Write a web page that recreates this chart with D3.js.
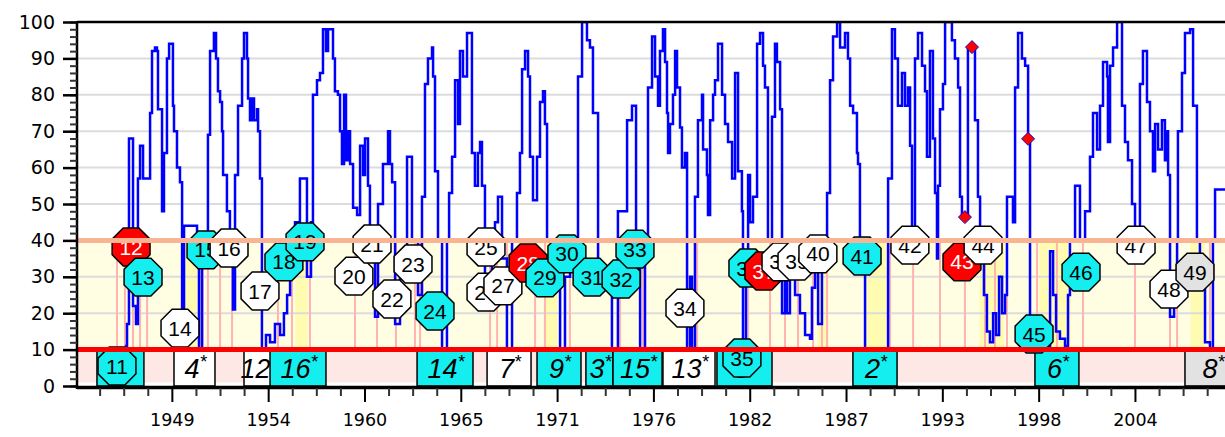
<!DOCTYPE html>
<html>
<head>
<meta charset="utf-8">
<script src="https://cdn.jsdelivr.net/npm/d3@7"></script>
<style>
  body { margin: 0; background: #fff; }
  .axis text { font-family: "DejaVu Sans", sans-serif; fill: #000; }
  .axis path { display: none; }
</style>
</head>
<body>
<svg id="chart" width="1225" height="437"></svg>
<script>
// ---- data ----
// x axis is a day-count axis: major ticks every 2000 days, minor every 500
const majorDays = [18000, 20000, 22000, 24000, 26000, 28000, 30000, 32000, 34000, 36000, 38000];
const tickLabels = ["1949", "1954", "1960", "1965", "1971", "1976", "1982", "1987", "1993", "1998", "2004"];
const yTicks = [0, 10, 20, 30, 40, 50, 60, 70, 80, 90, 100];

// blue step line (decimal year, value)
const lineYear = [1946.61, 1946.73, 1946.84, 1947.07, 1947.24, 1947.35, 1947.47, 1947.64, 1948.04, 1948.15,
  1948.32, 1948.43, 1948.49, 1948.72, 1948.83, 1949.00, 1949.12, 1949.34, 1949.40, 1949.57,
  1949.74, 1949.86, 1949.97, 1950.71, 1950.82, 1950.99, 1951.33, 1951.45, 1951.67, 1951.79,
  1951.90, 1952.02, 1952.13, 1952.19, 1952.41, 1952.58, 1952.75, 1952.87, 1953.04, 1953.27,
  1953.38, 1953.55, 1953.61, 1953.72, 1953.84, 1953.95, 1954.12, 1954.18, 1954.29, 1954.40,
  1954.63, 1954.86, 1955.14, 1955.43, 1955.65, 1955.83, 1956.00, 1956.28, 1956.56, 1956.96,
  1957.19, 1957.30, 1957.53, 1957.70, 1957.87, 1958.04, 1958.16, 1958.44, 1958.55, 1958.72,
  1958.84, 1958.95, 1959.07, 1959.18, 1959.29, 1959.41, 1959.58, 1959.81, 1959.98, 1960.15,
  1960.26, 1960.43, 1960.54, 1960.83, 1961.00, 1961.28, 1961.57, 1961.68, 1961.80, 1961.97,
  1962.25, 1962.65, 1962.93, 1963.27, 1963.50, 1963.67, 1963.84, 1964.07, 1964.13, 1964.24,
  1964.41, 1964.64, 1964.92, 1965.04, 1965.21, 1965.38, 1965.55, 1965.66, 1965.83, 1966.06,
  1966.34, 1966.51, 1966.68, 1966.80, 1966.91, 1967.08, 1967.48, 1967.65, 1967.82, 1968.05,
  1968.33, 1968.62, 1968.90, 1969.07, 1969.19, 1969.36, 1969.53, 1969.64, 1969.81, 1970.04,
  1970.21, 1970.38, 1970.49, 1970.61, 1971.18, 1971.35, 1971.63, 1971.92, 1972.37, 1972.60,
  1972.88, 1973.05, 1973.22, 1973.51, 1974.30, 1974.64, 1975.16, 1975.44, 1975.67, 1975.90,
  1976.18, 1976.35, 1976.58, 1976.75, 1976.92, 1977.03, 1977.20, 1977.32, 1977.43, 1977.49,
  1977.60, 1977.77, 1977.89, 1978.00, 1978.17, 1978.28, 1978.45, 1978.57, 1978.74, 1978.85,
  1979.02, 1979.19, 1979.42, 1979.48, 1979.70, 1979.76, 1979.88, 1980.05, 1980.16, 1980.33,
  1980.56, 1980.73, 1980.90, 1981.13, 1981.30, 1981.47, 1981.69, 1981.75, 1981.92, 1982.04,
  1982.15, 1982.32, 1982.55, 1982.72, 1982.89, 1983.00, 1983.17, 1983.40, 1983.57, 1983.68,
  1983.86, 1983.97, 1984.14, 1984.25, 1984.42, 1984.71, 1984.99, 1985.28, 1985.56, 1985.67,
  1985.85, 1986.02, 1986.24, 1986.41, 1986.53, 1986.70, 1986.87, 1987.10, 1987.27, 1987.55,
  1987.72, 1987.84, 1988.01, 1988.23, 1988.29, 1988.40, 1988.69, 1990.00, 1990.22, 1990.39,
  1990.56, 1990.79, 1990.96, 1991.13, 1991.25, 1991.36, 1991.53, 1991.70, 1991.93, 1992.10,
  1992.21, 1992.38, 1992.55, 1992.67, 1992.78, 1992.84, 1992.95, 1993.12, 1993.24, 1993.63,
  1993.80, 1993.98, 1994.09, 1994.20, 1994.54, 1994.94, 1995.11, 1995.23, 1995.45, 1995.62,
  1995.79, 1995.97, 1996.14, 1996.31, 1996.48, 1996.65, 1996.76, 1997.10, 1997.22, 1997.39,
  1997.61, 1997.79, 1997.96, 1998.07, 1999.21, 1999.38, 1999.55, 1999.77, 2000.06, 2000.23,
  2000.34, 2000.63, 2000.91, 2001.20, 2001.48, 2001.65, 2001.88, 2002.05, 2002.22, 2002.45,
  2002.50, 2002.62, 2002.79, 2003.02, 2003.30, 2003.47, 2003.64, 2003.87, 2004.04, 2004.32,
  2004.49, 2004.72, 2004.89, 2005.06, 2005.18, 2005.35, 2005.57, 2005.74, 2005.86, 2005.92,
  2006.03, 2006.26, 2006.43, 2006.48, 2006.71, 2006.88, 2007.17, 2007.34, 2007.56, 2007.73,
  2008.02, 2008.30, 2008.47, 2008.59, 2009.50];
const lineValue = [11, 17, 68, 22, 17, 57, 66, 57, 75, 92,
  93, 92, 76, 48, 64, 90, 94, 77, 70, 60,
  56, 12, 44, 34, 10, 33, 69, 92, 97, 90,
  81, 78, 70, 58, 48, 35, 21, 58, 77, 90,
  97, 90, 79, 73, 79, 73, 76, 70, 57, 10,
  14, 12, 17, 14, 20, 25, 35, 45, 57, 30,
  45, 80, 84, 86, 98, 92, 98, 90, 81, 80,
  70, 61, 80, 62, 70, 61, 49, 47, 66, 58,
  68, 55, 35, 19, 50, 61, 70, 61, 56, 17,
  30, 63, 40, 25, 52, 83, 90, 93, 85, 59,
  40, 10, 40, 53, 63, 84, 72, 92, 85, 97,
  64, 55, 64, 67, 55, 30, 35, 45, 52, 35,
  10, 40, 53, 64, 87, 92, 85, 63, 51, 63,
  78, 81, 72, 40, 30, 10, 30, 40, 85, 100,
  95, 93, 75, 30, 10, 48, 73, 77, 35, 10,
  40, 82, 96, 85, 77, 92, 98, 89, 75, 64,
  72, 80, 92, 82, 71, 60, 64, 10, 30, 10,
  52, 73, 80, 65, 58, 47, 73, 80, 84, 94,
  80, 72, 67, 57, 86, 59, 48, 12, 35, 58,
  45, 52, 94, 97, 88, 82, 40, 74, 94, 89,
  76, 20, 35, 20, 30, 25, 20, 14, 13, 27,
  35, 17, 35, 40, 53, 84, 96, 100, 93, 97,
  90, 77, 75, 64, 61, 32, 10, 57, 98, 90,
  77, 86, 77, 82, 66, 35, 90, 97, 88, 81,
  63, 92, 68, 53, 35, 55, 76, 83, 100, 95,
  90, 82, 52, 46, 93, 73, 52, 35, 25, 15,
  12, 20, 14, 30, 20, 25, 52, 45, 82, 97,
  90, 88, 68, 10, 37, 25, 15, 13, 11, 25,
  40, 55, 40, 48, 63, 75, 65, 77, 89, 85,
  67, 88, 93, 100, 77, 67, 62, 50, 40, 83,
  92, 78, 70, 59, 72, 65, 73, 62, 70, 58,
  19, 25, 40, 70, 86, 97, 98, 77, 40, 30,
  12, 10, 40, 54, 54];

// red diamonds on the line
const diamondYear = [1994.37, 1994.77, 1997.96];
const diamondValue = [46.4, 93.1, 67.9];

// numbered event markers
const markerId = [11, 12, 13, 14, 15, 16, 17, 18, 19, 20, 21, 22, 23, 24, 25, 26, 27, 28, 29, 30,
  31, 32, 33, 34, 35, 36, 37, 38, 39, 40, 41, 42, 43, 44, 45, 46, 47, 48, 49];
const markerYear = [1946.16, 1946.96, 1947.64, 1949.74, 1951.22, 1952.53, 1954.29, 1955.65, 1956.85, 1959.63,
  1960.66, 1961.79, 1962.99, 1964.24, 1967.14, 1967.14, 1968.10, 1969.53, 1970.49, 1971.74,
  1973.17, 1974.82, 1975.61, 1978.45, 1981.69, 1982.03, 1982.94, 1983.91, 1984.82, 1986.01,
  1988.52, 1991.24, 1994.20, 1995.40, 1998.30, 2000.97, 2004.10, 2005.97, 2007.45];
const markerValue = [5.5, 38.2, 29.9, 15.9, 37.4, 37.9, 26.1, 34.1, 39.6, 30.2,
  39.0, 23.9, 33.5, 20.6, 38.2, 25.8, 27.5, 33.8, 29.7, 36.3,
  29.9, 29.4, 37.6, 21.4, 7.7, 32.4, 31.6, 34.1, 34.3, 36.3,
  35.7, 38.7, 34.1, 38.7, 14.3, 31.3, 38.7, 26.6, 31.3];
const markerKind = ["c", "r", "c", "w", "c", "w", "w", "c", "c", "w",
  "w", "w", "w", "c", "w", "w", "w", "r", "c", "c",
  "c", "c", "c", "w", "c", "c", "r", "w", "w", "w",
  "c", "w", "r", "w", "c", "c", "w", "w", "g"];

// labelled boxes below the 10 line
const boxStart = [1945.02, 1949.40, 1953.38, 1954.86, 1963.22, 1967.20, 1970.04, 1972.82, 1974.36, 1977.20, 1980.27, 1988.00, 1998.35, 2006.88];
const boxEnd = [1947.69, 1951.73, 1954.97, 1958.04, 1966.40, 1969.70, 1972.54, 1974.36, 1977.15, 1980.16, 1983.40, 1990.51, 2000.85, 2010.00];
const boxLabel = ["", "4", "12", "16", "14", "7", "9", "3", "15", "13", "5", "2", "6", "8"];
const boxKind = ["c", "w", "w", "c", "c", "w", "c", "c", "c", "w", "c", "c", "c", "g"];

// pink event lines and stronger yellow spans inside the 10-40 band
const pinkYear = [1946.16, 1946.61, 1947.07, 1947.47, 1947.87, 1951.05, 1951.33, 1952.02, 1952.70, 1954.40,
  1955.31, 1956.11, 1957.13, 1959.69, 1960.94, 1962.02, 1963.10, 1963.39, 1964.64, 1967.37,
  1967.77, 1968.33, 1969.93, 1970.49, 1971.35, 1971.91, 1974.76, 1976.06, 1978.57, 1979.14,
  1982.04, 1983.29, 1984.14, 1984.88, 1985.73, 1986.24, 1986.53, 1988.69, 1990.11, 1991.42,
  1992.95, 1994.37, 1995.51, 1996.08, 1996.76, 1998.47, 1999.60, 2001.08, 2004.04, 2006.03,
  2006.43, 2008.30];
const bandStart = [1949.8, 1956.3, 1970.5, 1986.0, 1988.7, 1995.2, 1998.6, 2007.2];
const bandEnd = [1950.7, 1957.0, 1971.2, 1986.6, 1989.9, 1996.6, 2000.4, 2008.0];

// ---- chart ----
const W = 1225, pL = 77, pT = 22, pB = 386;
const dayToYear = d => 1900 + (d - 1) / 365.25;

const x = d3.scaleLinear().domain([dayToYear(16030), dayToYear(39870)]).range([pL, W]);
const y = d3.scaleLinear().domain([0, 100]).range([pB, pT]);

const kindFill = { c: "#14eeee", w: "#ffffff", r: "#ff0000", g: "#e2e2e2" };

const svg = d3.select("#chart");

svg.append("defs").append("clipPath").attr("id", "plotclip")
  .append("rect").attr("x", pL).attr("y", pT).attr("width", W - pL).attr("height", pB - pT + 2);

const plot = svg.append("g").attr("clip-path", "url(#plotclip)");

// background bands
plot.append("rect").attr("x", pL).attr("width", W - pL)
  .attr("y", y(40)).attr("height", y(10) - y(40)).attr("fill", "#fffde2");
plot.append("rect").attr("x", pL).attr("width", W - pL)
  .attr("y", y(10)).attr("height", y(1) - y(10)).attr("fill", "#fde8e6");

plot.selectAll(".band").data(bandStart).enter().append("rect")
  .attr("x", d => x(d))
  .attr("width", (d, i) => x(bandEnd[i]) - x(d))
  .attr("y", y(40)).attr("height", y(10) - y(40))
  .attr("fill", "#fffbb0");

// grid
plot.selectAll(".grid").data(yTicks.filter(v => v > 0 && v < 100)).enter().append("line")
  .attr("x1", pL).attr("x2", W)
  .attr("y1", d => y(d)).attr("y2", d => y(d))
  .attr("stroke", "#dcdcdc").attr("stroke-width", 2);

// pink event lines
plot.selectAll(".pink").data(pinkYear).enter().append("line")
  .attr("x1", d => x(d)).attr("x2", d => x(d))
  .attr("y1", y(40)).attr("y2", y(10))
  .attr("stroke", "#ffb4b0").attr("stroke-width", 2);

// blue line
const lineData = lineYear.map((t, i) => [t, lineValue[i]]);
plot.append("path").datum(lineData)
  .attr("fill", "none").attr("stroke", "#0000ff").attr("stroke-width", 2.5)
  .attr("d", d3.line().x(d => x(d[0])).y(d => y(d[1])).curve(d3.curveStepAfter));

// red diamonds
plot.selectAll(".dia").data(diamondYear).enter().append("path")
  .attr("transform", (d, i) => "translate(" + x(d) + "," + y(diamondValue[i]) + ")")
  .attr("d", "M0,-6.5L6.5,0L0,6.5L-6.5,0Z")
  .attr("fill", "#ff0000").attr("stroke", "#1010c0").attr("stroke-width", 1);

// boxes under the 10 line
const boxes = plot.selectAll(".box").data(boxStart).enter().append("g");
boxes.append("rect")
  .attr("x", d => x(d))
  .attr("width", (d, i) => x(boxEnd[i]) - x(d))
  .attr("y", y(10)).attr("height", y(0) - y(10))
  .attr("fill", (d, i) => kindFill[boxKind[i]])
  .attr("stroke", "#000").attr("stroke-width", 1.5);
const boxText = boxes.append("text")
  .attr("x", (d, i) => (x(d) + x(boxEnd[i])) / 2 + 1)
  .attr("y", y(10) + 28)
  .attr("text-anchor", "middle")
  .style("font-family", "'Liberation Sans', Arial, sans-serif")
  .style("font-style", "italic")
  .style("font-size", "27px");
boxText.append("tspan").text((d, i) => boxLabel[i]);
boxText.append("tspan").attr("dy", -10).style("font-size", "18px")
  .text((d, i) => boxLabel[i] ? "*" : "");

// numbered markers
const R = 20.5;
const octagon = d3.range(8).map(k => {
  const a = Math.PI / 8 + k * Math.PI / 4;
  return [R * Math.cos(a), R * Math.sin(a)];
});
const markers = plot.selectAll(".mk").data(markerId).enter().append("g")
  .attr("transform", (d, i) => "translate(" + x(markerYear[i]) + "," + y(markerValue[i]) + ")");
markers.append("path")
  .attr("d", "M" + octagon.join("L") + "Z")
  .attr("fill", (d, i) => kindFill[markerKind[i]])
  .attr("stroke", "#000").attr("stroke-width", 1.5);
markers.append("text")
  .attr("text-anchor", "middle").attr("dy", "0.36em")
  .style("font-family", "'Liberation Sans Narrow', 'Liberation Sans', sans-serif")
  .style("font-size", "21px")
  .attr("fill", (d, i) => markerKind[i] === "r" ? "#fff" : "#000")
  .text(d => d);

// threshold lines
plot.append("line").attr("x1", pL).attr("x2", W).attr("y1", y(40)).attr("y2", y(40))
  .attr("stroke", "#f9b494").attr("stroke-width", 5);
plot.append("line").attr("x1", pL).attr("x2", W).attr("y1", y(10)).attr("y2", y(10))
  .attr("stroke", "#ff0000").attr("stroke-width", 5);

// frame
svg.append("line").attr("x1", pL).attr("x2", W).attr("y1", pT).attr("y2", pT)
  .attr("stroke", "#000").attr("stroke-width", 2.5);
svg.append("line").attr("x1", pL).attr("x2", pL).attr("y1", pT - 1).attr("y2", pB + 3)
  .attr("stroke", "#000").attr("stroke-width", 2.5);
svg.append("line").attr("x1", pL).attr("x2", W).attr("y1", pB + 1.5).attr("y2", pB + 1.5)
  .attr("stroke", "#000").attr("stroke-width", 3.5);

// y axis
svg.append("g").attr("class", "axis").attr("transform", "translate(" + pL + ",0)")
  .call(d3.axisLeft(y).tickValues(d3.range(0, 101, 2)).tickSize(7).tickFormat(""))
  .selectAll("line").attr("stroke", "#333").attr("stroke-width", 2);
const yAx = svg.append("g").attr("class", "axis").attr("transform", "translate(" + pL + ",0)")
  .call(d3.axisLeft(y).tickValues(yTicks).tickSize(14).tickPadding(8));
yAx.selectAll("line").attr("stroke", "#000").attr("stroke-width", 2.5);
yAx.selectAll("text").style("font-size", "19px");

// x axis
const minorYears = d3.range(16500, 39900, 500).filter(d => d % 2000 !== 0).map(dayToYear);
svg.append("g").attr("class", "axis").attr("transform", "translate(0," + (pB + 2) + ")")
  .call(d3.axisBottom(x).tickValues(minorYears).tickSize(8).tickFormat(""))
  .selectAll("line").attr("stroke", "#333").attr("stroke-width", 2);
const xAx = svg.append("g").attr("class", "axis").attr("transform", "translate(0," + (pB + 2) + ")")
  .call(d3.axisBottom(x).tickValues(majorDays.map(dayToYear)).tickSize(14).tickPadding(12)
    .tickFormat((d, i) => tickLabels[i]));
xAx.selectAll("line").attr("stroke", "#000").attr("stroke-width", 2);
xAx.selectAll("text").style("font-size", "17.5px");
</script>
</body>
</html>
